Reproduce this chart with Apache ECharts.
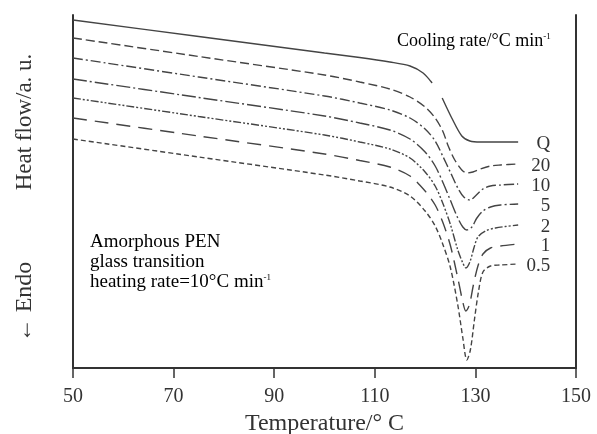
<!DOCTYPE html>
<html>
<head>
<meta charset="utf-8">
<script src="https://cdn.jsdelivr.net/npm/echarts@6/dist/echarts.min.js"></script>
<style>
html,body{margin:0;padding:0;background:#fff;}
#main{width:597px;height:434px;}
</style>
</head>
<body>
<div id="main"></div>
<script>
// DSC heating curves, heat flow in a.u. (endo down)
var xTicks = [50, 70, 90, 110, 130, 150];
var rateNames = ['Q', '20', '10', '5', '2', '1', '0.5'];

var curveQ = [[50,34.8],[75,33.15],[100,31.5],[107,31.05],[113,30.6],[117,30.2],[119.6,29.5],[121.4,28.5],[122.4,'-'],
  [123.4,27.0],[125.3,25.0],[127.3,23.2],[128.9,22.7],[131,22.6],[138.5,22.6]];
var curve20 = [[50,33.0],[75,31.15],[100,29.3],[107,28.6],[113,27.9],[117,27.1],[120,26.1],[122,25.0],[123.5,23.7],
  [124.6,22.2],[125.9,20.8],[127.3,19.8],[128.3,19.5],[129.5,19.6],[131,19.9],[133,20.2],[135,20.3],[138.5,20.4]];
var curve10 = [[50,31.0],[75,29.1],[100,27.2],[107,26.5],[113,25.8],[117,25.0],[120,23.9],[122,22.7],[123.5,21.2],
  [125,19.6],[126.5,18.0],[127.7,17.1],[128.9,16.8],[130,17.2],[131.5,17.9],[133,18.2],[135,18.3],[138.5,18.4]];
var curve5 = [[50,28.9],[75,27.05],[100,25.2],[107,24.5],[113,23.8],[117,22.9],[120,21.6],[122,20.2],[123.5,18.6],
  [125,16.8],[126.5,15.0],[127.5,14.1],[128.3,13.8],[129.3,14.1],[130.3,15.0],[131.5,15.7],[133,16.1],[135,16.3],[138.5,16.4]];
var curve2 = [[50,27.0],[75,25.15],[100,23.3],[107,22.6],[113,21.9],[117,21.0],[120,19.6],[122,18.2],[123.5,16.5],
  [125,14.4],[126.5,11.8],[127.5,10.5],[128.1,10.0],[128.9,10.6],[129.7,12.0],[130.5,13.1],[132,13.7],[134,14.0],[138.5,14.3]];
var curve1 = [[50,25.0],[75,23.2],[100,21.4],[107,20.75],[113,20.1],[117,19.2],[120,17.7],[122,16.3],[123.5,14.6],
  [125,12.3],[126.5,9.0],[127.5,6.6],[128.1,5.7],[128.8,6.3],[129.6,8.3],[130.5,10.2],[131.5,11.4],[133,12.0],[135,12.2],[138.5,12.4]];
var curve05 = [[50,22.9],[75,21.1],[100,19.3],[107,18.7],[113,18.1],[117,17.2],[120,15.7],[122,14.2],[123.5,12.4],
  [125,10.1],[126.5,6.3],[127.5,3.0],[128.3,0.8],[129,1.8],[129.8,4.8],[130.6,7.6],[131.5,9.6],[133,10.2],[135,10.3],[138.5,10.4]];

var curves = [curveQ, curve20, curve10, curve5, curve2, curve1, curve05];
var dashes = ['solid', [9,4], [10,3,2,3], [14,3,2,3], [8,2,2,2,2,2], [14,8], [5,3]];

var serif = 'Liberation Serif';
var ink = '#333';

var seriesList = [];
for (var i = 0; i < curves.length; i++) {
  seriesList.push({
    name: rateNames[i],
    type: 'line',
    data: curves[i],
    showSymbol: false,
    smooth: 0.3,
    connectNulls: false,
    lineStyle: {color: '#444', width: 1.4, type: dashes[i]},
    endLabel: {
      show: true,
      formatter: '{a}',
      color: ink,
      fontFamily: serif,
      fontSize: 19,
      align: 'right',
      distance: 32,
      offset: [0, 2]
    },
    z: 3
  });
}

var myChart = echarts.init(document.getElementById('main'));
var option = {
  animation: false,
  grid: {left: 73, right: 21, top: 15, bottom: 66, outerBoundsMode: 'none', containLabel: false},
  xAxis: [{
    type: 'value',
    min: 50,
    max: 150,
    interval: 20,
    name: 'Temperature/° C',
    nameLocation: 'middle',
    nameGap: 43,
    nameTextStyle: {fontFamily: serif, fontSize: 24, color: ink},
    axisLine: {lineStyle: {color: ink, width: 1.8}},
    axisTick: {length: 10, lineStyle: {color: ink, width: 1.5}},
    axisLabel: {
      margin: 19,
      fontFamily: serif,
      fontSize: 20,
      color: ink,
      formatter: function (v) { return xTicks.indexOf(v) >= 0 ? v : ''; }
    },
    splitLine: {show: false}
  }, {
    type: 'value',
    position: 'top',
    min: 50,
    max: 150,
    axisLine: {show: true, lineStyle: {color: ink, width: 2}},
    axisTick: {show: false},
    axisLabel: {show: false},
    splitLine: {show: false}
  }],
  yAxis: [{
    type: 'value',
    min: 0,
    max: 35.3,
    axisLine: {show: true, lineStyle: {color: ink, width: 2}},
    axisTick: {show: false},
    axisLabel: {show: false},
    splitLine: {show: false}
  }, {
    type: 'value',
    position: 'right',
    min: 0,
    max: 35.3,
    axisLine: {show: true, lineStyle: {color: ink, width: 2}},
    axisTick: {show: false},
    axisLabel: {show: false},
    splitLine: {show: false}
  }],
  graphic: [
    {
      type: 'text', x: 25, y: 122, rotation: Math.PI / 2,
      style: {text: 'Heat flow/a. u.', font: '23px "Liberation Serif"', fill: ink, textAlign: 'center', textVerticalAlign: 'middle'}
    },
    {
      type: 'text', x: 25, y: 302, rotation: Math.PI / 2,
      style: {text: '← Endo', font: '24px "Liberation Serif"', fill: ink, textAlign: 'center', textVerticalAlign: 'middle'}
    },
    {
      type: 'text', left: 397, top: 32,
      style: {
        text: '{a|Cooling rate/°C min}{s|-1}',
        rich: {
          a: {fontFamily: serif, fontSize: 18, color: ink},
          s: {fontFamily: serif, fontSize: 9, color: ink, padding: [0, 0, 10, 0]}
        }
      }
    },
    {
      type: 'text', left: 90, top: 233,
      style: {
        text: '{a|Amorphous PEN}\n{a|glass transition}\n{a|heating rate=10°C min}{s|-1}',
        rich: {
          a: {fontFamily: serif, fontSize: 19, color: ink, lineHeight: 20},
          s: {fontFamily: serif, fontSize: 9, color: ink, padding: [0, 0, 10, 0], lineHeight: 20}
        }
      }
    }
  ],
  series: seriesList
};
myChart.setOption(option);
</script>
</body>
</html>
